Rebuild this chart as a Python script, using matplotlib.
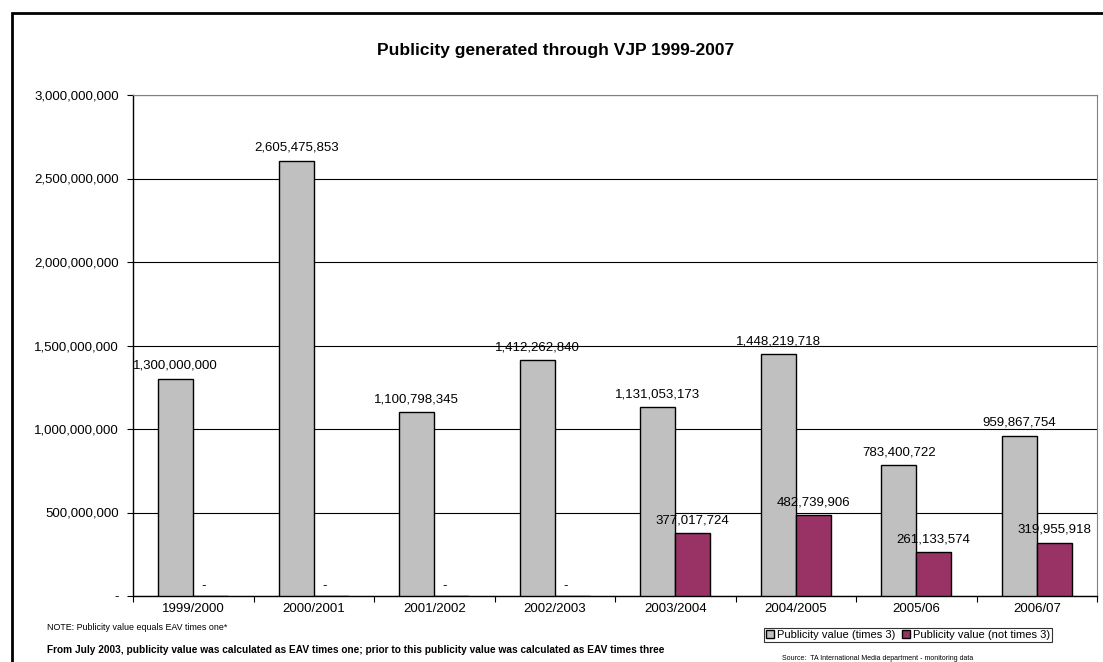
import numpy as np
import matplotlib.pyplot as plt
from matplotlib.patches import Rectangle
from matplotlib.ticker import FuncFormatter

plt.rcParams['font.family'] = ['Liberation Sans', 'DejaVu Sans']

# Datos
temporadas = ['1999/2000', '2000/2001', '2001/2002', '2002/2003',
              '2003/2004', '2004/2005', '2005/06', '2006/07']
valor_x3 = [1300000000, 2605475853, 1100798345, 1412262840,
            1131053173, 1448219718, 783400722, 959867754]
valor_x1 = [0, 0, 0, 0, 377017724, 482739906, 261133574, 319955918]


def fmt(v, pos=None):
    return '-' if v == 0 else f'{int(v):,}'


fig = plt.figure(figsize=(11.03, 6.62), dpi=100)
ax = fig.add_axes([133 / 1103, 1 - 596 / 662, (1097 - 133) / 1103, (596 - 95) / 662])

x = np.arange(len(temporadas))
ancho = 0.29
b1 = ax.bar(x - ancho / 2, valor_x3, ancho, color='#C0C0C0', edgecolor='black',
            linewidth=1, label='Publicity value (times 3)', zorder=3)
b2 = ax.bar(x + ancho / 2, valor_x1, ancho, color='#993366', edgecolor='black',
            linewidth=1, label='Publicity value (not times 3)', zorder=3)

# Etiquetas de valor
for barras in (b1, b2):
    for r in barras:
        h = r.get_height()
        if h == 0:
            desp = (-5, 3)
        else:
            desp = (0, 5)
        ax.annotate(fmt(h), (r.get_x() + r.get_width() / 2, h),
                    xytext=desp, textcoords='offset points',
                    ha='center', va='bottom', fontsize=9.5)

ax.set_xlim(-0.5, len(temporadas) - 0.5)
ax.set_ylim(0, 3000000000)
ax.set_yticks(np.arange(0, 3000000001, 500000000))
ax.yaxis.set_major_formatter(FuncFormatter(fmt))
ax.yaxis.grid(True, color='black', linewidth=0.8, zorder=0)
ax.set_xticks(x)
ax.set_xticklabels(temporadas)
ax.set_xticks(np.arange(-0.5, len(temporadas)), minor=True)
ax.tick_params(axis='x', which='major', length=0, labelsize=9.5, pad=5)
ax.tick_params(axis='x', which='minor', length=4, width=0.8)
ax.tick_params(axis='y', length=4, width=0.8, labelsize=9.5, pad=6)

for lado in ('top', 'right'):
    ax.spines[lado].set_color('#808080')
ax.spines['left'].set_linewidth(1)
ax.spines['bottom'].set_linewidth(1)

fig.text(556 / 1103, 1 - 50 / 662, 'Publicity generated through VJP 1999-2007',
         ha='center', va='center', fontsize=12.5, fontweight='bold')

leg = fig.legend(handles=[b1, b2], loc='center', bbox_to_anchor=(908 / 1103, 1 - 635 / 662),
                 ncol=2, fontsize=8, frameon=True, fancybox=False, edgecolor='black',
                 handlelength=0.7, handleheight=0.7, handletextpad=0.3, columnspacing=0.6,
                 borderpad=0.2, borderaxespad=0)
leg.get_frame().set_linewidth(0.8)

fig.text(47 / 1103, 1 - 628 / 662, 'NOTE: Publicity value equals EAV times one*',
         ha='left', va='center', fontsize=6.4)
fig.text(47 / 1103, 1 - 650 / 662,
         'From July 2003, publicity value was calculated as EAV times one; '
         'prior to this publicity value was calculated as EAV times three',
         ha='left', va='center', fontsize=7.3, fontweight='bold')
fig.text(878 / 1103, 1 - 659 / 662, 'Source:  TA International Media department - monitoring data',
         ha='center', va='center', fontsize=5)

# Marco exterior
fig.patches.append(Rectangle((12 / 1103, -0.05), 1.05, 1 - 13 / 662 + 0.05,
                             transform=fig.transFigure, fill=False,
                             edgecolor='black', linewidth=2))

fig.savefig('out.png', dpi=100)
